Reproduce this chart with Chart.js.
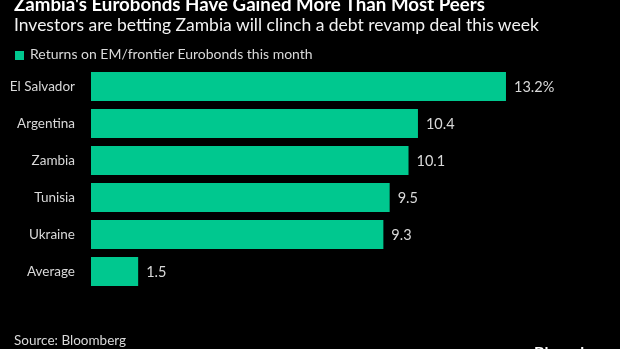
<!DOCTYPE html>
<html>
<head>
<meta charset="utf-8">
<script src="https://cdn.jsdelivr.net/npm/chart.js@4"></script>
<style>
    html, body { margin: 0; padding: 0; background: #000; }
    #wrap { position: relative; width: 620px; height: 349px; overflow: hidden; background: #000; font-family: Lato, sans-serif; }
    #chart-box { position: absolute; left: 0; top: 0; width: 620px; height: 349px; }
    .txt { position: absolute; white-space: nowrap; line-height: 1; }
    #title { left: 14px; top: -5px; font-size: 18.7px; font-weight: bold; color: #fff; }
    #subtitle { left: 14px; top: 16px; font-size: 17.5px; color: #f2f2f2; }
    #legend { left: 15px; top: 47px; font-size: 14px; color: #d9d9d9; }
    #legend .sw { display: inline-block; width: 9px; height: 9px; background: #00c88f; margin-right: 6px; vertical-align: -1px; }
    #source { left: 14px; top: 334px; font-size: 13.5px; color: #d9d9d9; }
    #logo { left: 534px; top: 344px; font-size: 16px; font-weight: bold; color: #fff; }
</style>
</head>
<body>
<div id="wrap">
    <div id="chart-box"><canvas id="barChart"></canvas></div>
    <div class="txt" id="title">Zambia's Eurobonds Have Gained More Than Most Peers</div>
    <div class="txt" id="subtitle">Investors are betting Zambia will clinch a debt revamp deal this week</div>
    <div class="txt" id="legend"><span class="sw"></span>Returns on EM/frontier Eurobonds this month</div>
    <div class="txt" id="source">Source: Bloomberg</div>
    <div class="txt" id="logo">Bloomberg</div>
</div>
<script>
// Dados do gráfico
const countries = ['El Salvador', 'Argentina', 'Zambia', 'Tunisia', 'Ukraine', 'Average'];
const returns = [13.2, 10.4, 10.1, 9.5, 9.3, 1.5];
const valueLabels = ['13.2%', '10.4', '10.1', '9.5', '9.3', '1.5'];

const barGreen = '#00c88f';
const labelGrey = '#d9d9d9';

// Rótulos de valor ao fim de cada barra
const valueLabelPlugin = {
    id: 'valueLabels',
    afterDatasetsDraw(chart) {
        const ctx = chart.ctx;
        const meta = chart.getDatasetMeta(0);
        ctx.save();
        ctx.font = '14.5px Lato, sans-serif';
        ctx.fillStyle = labelGrey;
        ctx.textAlign = 'left';
        ctx.textBaseline = 'middle';
        meta.data.forEach((bar, i) => {
            ctx.fillText(valueLabels[i], bar.x + 8, bar.y + 1);
        });
        ctx.restore();
    }
};

new Chart(document.getElementById('barChart'), {
    type: 'bar',
    data: {
        labels: countries,
        datasets: [{
            label: 'Returns on EM/frontier Eurobonds this month',
            data: returns,
            backgroundColor: barGreen,
            borderWidth: 0,
            categoryPercentage: 1,
            barPercentage: 0.78
        }]
    },
    options: {
        indexAxis: 'y',
        responsive: true,
        maintainAspectRatio: false,
        animation: false,
        layout: {
            padding: { left: 0, right: 26, top: 68, bottom: 59 }
        },
        plugins: {
            legend: { display: false },
            tooltip: { enabled: false }
        },
        scales: {
            x: {
                display: false,
                min: 0,
                max: 16
            },
            y: {
                grid: { display: false },
                border: { display: false },
                ticks: {
                    color: labelGrey,
                    padding: 8,
                    font: { family: 'Lato, sans-serif', size: 13.5 }
                },
                afterFit(scale) {
                    scale.width = 91;
                }
            }
        }
    },
    plugins: [valueLabelPlugin]
});
</script>
</body>
</html>
